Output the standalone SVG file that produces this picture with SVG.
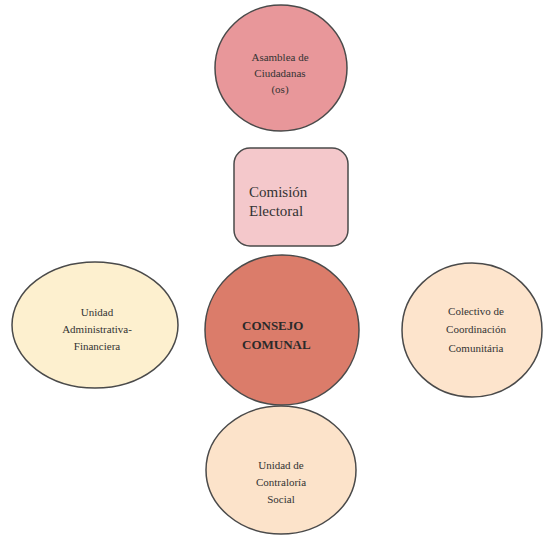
<svg xmlns="http://www.w3.org/2000/svg" width="544" height="536" viewBox="0 0 544 536">
<style>
.s{stroke:#4a4a4a;stroke-width:1.5}
.t{fill:#333;text-anchor:middle}
</style>
<rect width="544" height="536" fill="#fff"/>
<g font-family="'Liberation Serif', 'DejaVu Serif', serif">
<g id="asamblea">
<ellipse class="s" cx="281" cy="68" rx="66" ry="63" fill="#E8979A"/>
<text class="t" font-size="11"><tspan x="280" y="61">Asamblea de</tspan><tspan x="280" y="77">Ciudadanas</tspan><tspan x="280" y="93">(os)</tspan></text>
</g>
<g id="comision">
<rect class="s" x="234" y="148" width="114" height="98" rx="16" fill="#F4C8CB"/>
<text class="t" font-size="15" text-anchor="start" style="text-anchor:start"><tspan x="249" y="197">Comisión</tspan><tspan x="249" y="216">Electoral</tspan></text>
</g>
<g id="consejo">
<ellipse class="s" cx="282" cy="330" rx="77" ry="75" fill="#DB7C6A"/>
<text class="t" font-size="13" font-weight="bold" style="text-anchor:start;fill:#2a2a2a"><tspan x="242" y="330">CONSEJO</tspan><tspan x="242" y="349">COMUNAL</tspan></text>
</g>
<g id="administrativa">
<ellipse class="s" cx="95" cy="325" rx="83" ry="63" fill="#FDF0CF"/>
<text class="t" font-size="11"><tspan x="97" y="316">Unidad</tspan><tspan x="97" y="333">Administrativa-</tspan><tspan x="97" y="350">Financiera</tspan></text>
</g>
<g id="colectivo">
<ellipse class="s" cx="472" cy="330" rx="70" ry="67" fill="#FDE4CC"/>
<text class="t" font-size="11"><tspan x="476" y="315">Colectivo de</tspan><tspan x="476" y="333">Coordinación</tspan><tspan x="476" y="352">Comunitária</tspan></text>
</g>
<g id="contraloria">
<ellipse class="s" cx="281" cy="470" rx="75" ry="64" fill="#FCE3CA"/>
<text class="t" font-size="11"><tspan x="281" y="469">Unidad de</tspan><tspan x="281" y="486">Contraloría</tspan><tspan x="281" y="503">Social</tspan></text>
</g>
</g>
<g id="connectors"></g>
</svg>
